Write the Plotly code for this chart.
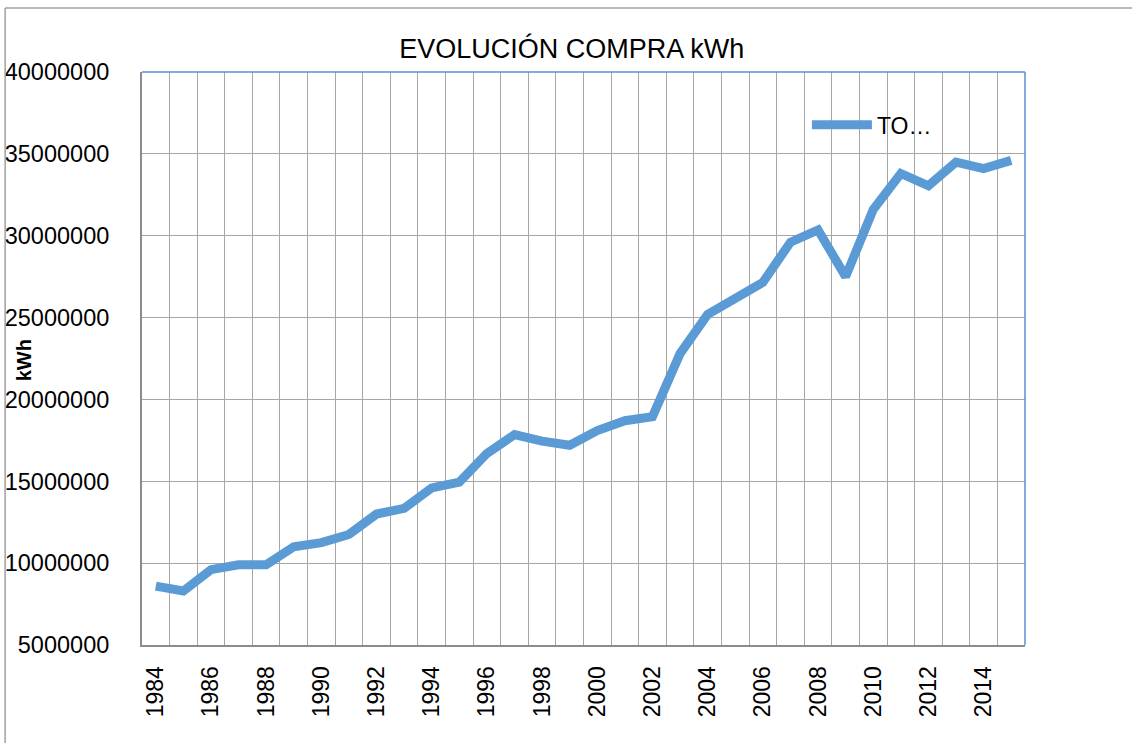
import plotly.graph_objects as go

years = list(range(1984, 2016))
kwh = [8600000, 8300000, 9600000, 9900000, 9900000, 11000000, 11250000, 11750000,
       13000000, 13350000, 14600000, 14950000, 16700000, 17850000, 17450000, 17200000,
       18100000, 18700000, 18950000, 22800000, 25200000, 26100000, 27150000, 29600000,
       30350000, 27500000, 31600000, 33800000, 33050000, 34500000, 34100000, 34600000]
label_years = list(range(1984, 2016, 2))
y_ticks = list(range(5000000, 40000001, 5000000))
series_name = "TO…"

fig = go.Figure()

fig.add_trace(go.Scatter(x=years, y=kwh, mode='lines', name=series_name,
                         line=dict(color='#5B9BD5', width=9)))

fig.update_layout(
    width=1132, height=743,
    margin=dict(l=142, r=107, t=72, b=98),
    paper_bgcolor='#ffffff', plot_bgcolor='#ffffff',
    font=dict(family='Liberation Sans, Arial, sans-serif', color='#000000'),
    title=dict(text='EVOLUCIÓN COMPRA kWh', x=0.505, xanchor='center',
               y=0.934, yanchor='middle', font=dict(size=27)),
    showlegend=True,
    legend=dict(x=0.753, y=0.908, xanchor='left', yanchor='middle', itemwidth=60,
                bgcolor='rgba(0,0,0,0)', font=dict(size=23)),
)

# category gridlines sit between the years, labels on every other year
fig.update_xaxes(range=[1983.5, 2015.5], tickmode='array', tickvals=label_years,
                 ticktext=[str(y) for y in label_years], tickangle=-90,
                 tickfont=dict(size=23), showgrid=False, automargin=False,
                 ticks='', ticklabelstandoff=10,
                 showline=True, linewidth=2, linecolor='#8C8C8C',
                 minor=dict(tickmode='array', tickvals=[y + 0.5 for y in years[:-1]],
                            showgrid=True, gridcolor='#A6A6A6', gridwidth=1, ticks=''),
                 zeroline=False)

fig.update_yaxes(range=[5000000, 40000000], tickmode='array', tickvals=y_ticks,
                 ticktext=[str(v) for v in y_ticks], tickfont=dict(size=23.5),
                 showgrid=True, gridcolor='#A6A6A6', gridwidth=1, automargin=False,
                 ticks='', ticklabelstandoff=26,
                 showline=True, linewidth=2, linecolor='#8C8C8C', zeroline=False)

fig.add_annotation(text='<b>kWh</b>', textangle=-90, xref='paper', yref='paper',
                   x=-0.1336, y=0.497, xanchor='center', yanchor='middle',
                   showarrow=False, font=dict(size=20))

# blue top and right border of the plot area
fig.add_shape(type='line', xref='paper', yref='paper', x0=0, x1=1, y0=1, y1=1,
              line=dict(color='#5B8FD0', width=1.5))
fig.add_shape(type='line', xref='paper', yref='paper', x0=1, x1=1, y0=0, y1=1,
              line=dict(color='#5B8FD0', width=1.5))

# outer chart frame (left and top edges visible)
fig.add_shape(type='line', xref='paper', yref='paper', x0=-0.155, x1=-0.155,
              y0=-0.3, y1=1.1117, line=dict(color='#A0A0A0', width=1.5))
fig.add_shape(type='line', xref='paper', yref='paper', x0=-0.155, x1=1.2,
              y0=1.1117, y1=1.1117, line=dict(color='#A0A0A0', width=1.5))

# drop the browser's default body margin so the figure sits at the page corner
fig.write_html("out.html", config={'displayModeBar': False},
               post_script="document.body.style.margin = '0px';")
